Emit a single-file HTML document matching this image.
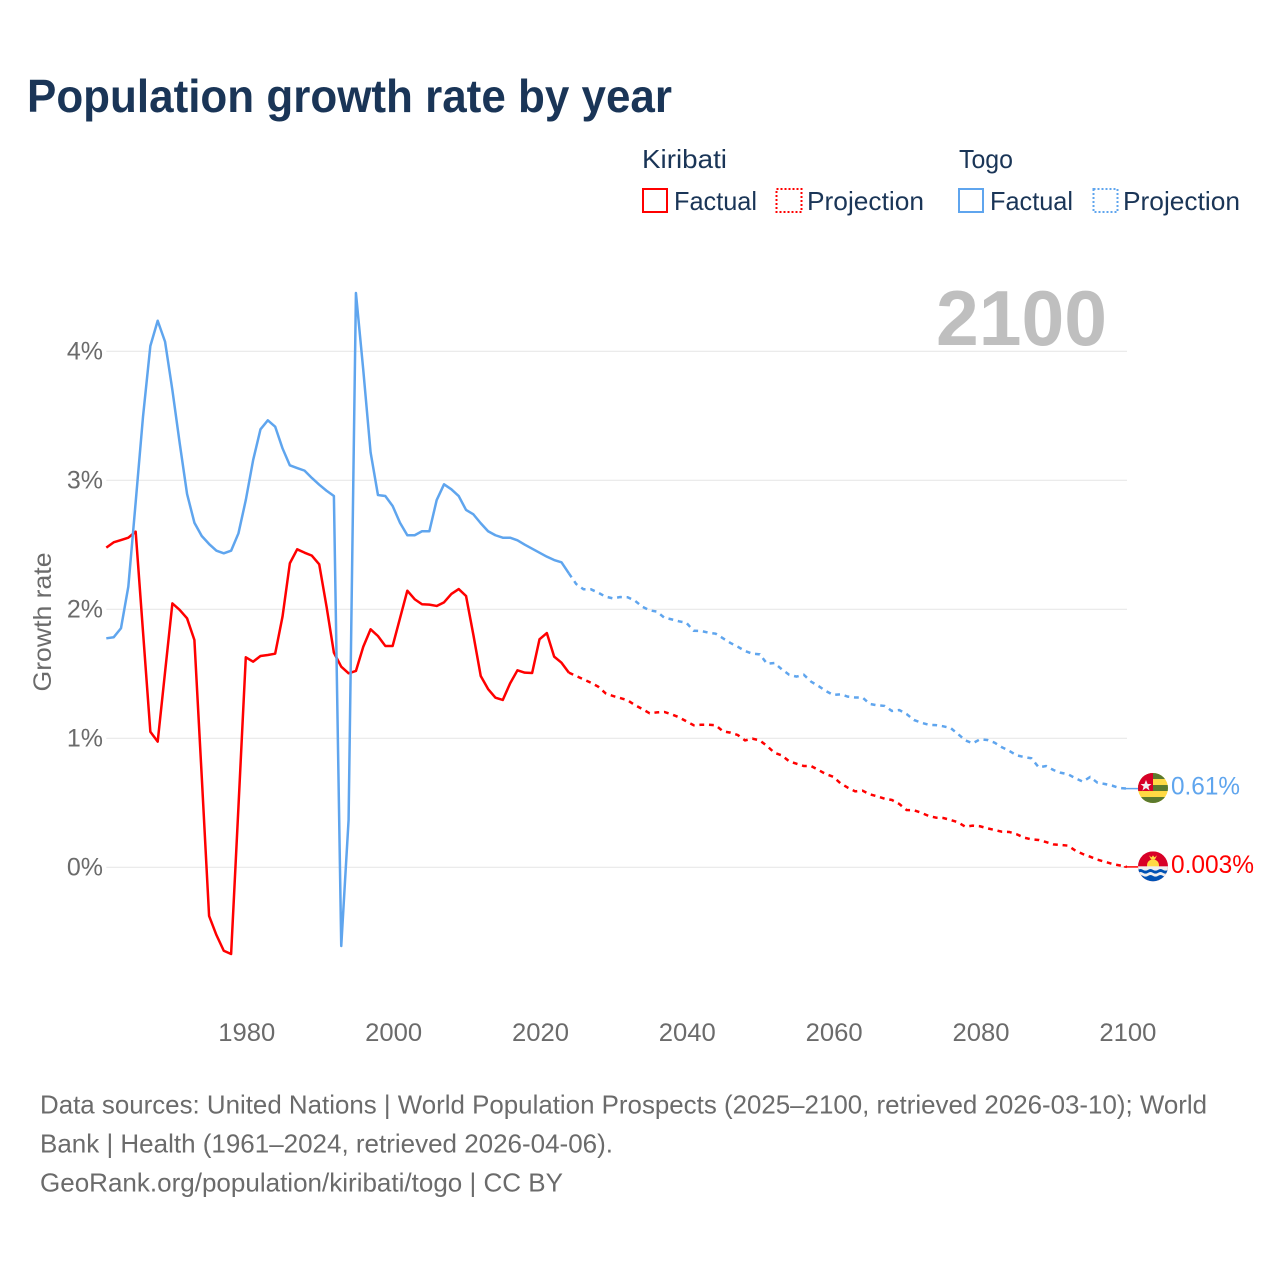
<!DOCTYPE html>
<html lang="en">
<head>
<meta charset="utf-8">
<title>Population growth rate by year</title>
<style>
html,body{margin:0;padding:0;background:#fff;width:1280px;height:1280px;overflow:hidden}
svg{display:block}
text{font-family:"Liberation Sans",sans-serif}
</style>
</head>
<body>
<svg id="chart" xmlns="http://www.w3.org/2000/svg" width="1280" height="1280" viewBox="0 0 1280 1280">
  <defs>
    <clipPath id="flag-clip"><circle cx="0" cy="0" r="15"/></clipPath>
  </defs>
  <rect width="1280" height="1280" fill="#fff"/>
  <text x="27" y="112" font-size="46" font-weight="700" fill="#1a3557" textLength="645" lengthAdjust="spacingAndGlyphs">Population growth rate by year</text>

  <g font-size="26" fill="#1a3557">
    <text x="642" y="168" textLength="85" lengthAdjust="spacingAndGlyphs">Kiribati</text>
    <text x="959" y="168" textLength="54" lengthAdjust="spacingAndGlyphs">Togo</text>
    <rect x="643" y="189" width="24" height="23" fill="none" stroke="#ff0000" stroke-width="2"/>
    <text x="674" y="210" textLength="83" lengthAdjust="spacingAndGlyphs">Factual</text>
    <rect x="776.5" y="189" width="25" height="23" fill="none" stroke="#ff0000" stroke-width="2" stroke-dasharray="2 2"/>
    <text x="807" y="210" textLength="117" lengthAdjust="spacingAndGlyphs">Projection</text>
    <rect x="959" y="189" width="24" height="23" fill="none" stroke="#5fa5ee" stroke-width="2"/>
    <text x="990" y="210" textLength="83" lengthAdjust="spacingAndGlyphs">Factual</text>
    <rect x="1093.5" y="189" width="24" height="23" fill="none" stroke="#5fa5ee" stroke-width="2" stroke-dasharray="2 2"/>
    <text x="1123" y="210" textLength="117" lengthAdjust="spacingAndGlyphs">Projection</text>
  </g>

  <text transform="translate(51,622) rotate(-90)" text-anchor="middle" font-size="25" fill="#6b6b6b" textLength="139" lengthAdjust="spacingAndGlyphs">Growth rate</text>

  <g id="grid"></g>
  <g id="y-labels"></g>
  <g id="x-labels"></g>

  <text x="1107" y="345" text-anchor="end" font-size="78" font-weight="700" fill="#bfbfbf" textLength="171" lengthAdjust="spacingAndGlyphs">2100</text>

  <g id="series"></g>

  <g id="flag-togo">
    <g clip-path="url(#flag-clip)">
      <rect x="-15" y="-15" width="30" height="30" fill="#ffda44"/>
      <rect x="-15" y="-15" width="30" height="6" fill="#5b7a2e"/>
      <rect x="-15" y="-3" width="30" height="6" fill="#5b7a2e"/>
      <rect x="-15" y="9" width="30" height="6" fill="#5b7a2e"/>
      <rect x="-15" y="-15" width="15" height="18" fill="#d80027"/>
      <polygon points="-7,-8 -5.4,-4 -1.5,-4 -4.6,-1.5 -3.5,2.5 -7,0 -10.5,2.5 -9.4,-1.5 -12.5,-4 -8.6,-4" fill="#f0f0f0"/>
    </g>
  </g>
  <g id="flag-kiribati">
    <g clip-path="url(#flag-clip)">
      <rect x="-15" y="-15" width="30" height="30" fill="#d80027"/>
      <polygon points="-4,-11 -1.5,-9 0,-11 1.5,-9 4,-11 2,-7 -2,-7" fill="#ffda44"/>
      <circle cx="0" cy="-1" r="6" fill="#ffda44"/>
      <rect x="-15" y="0" width="30" height="15" fill="#f0f0f0"/>
      <path d="M-15,3.5 q2.5,-1.6 5,0 t5,0 t5,0 t5,0 t5,0 t5,0 V6.5 q-2.5,1.6 -5,0 t-5,0 t-5,0 t-5,0 t-5,0 t-5,0 Z" fill="#0052b4"/>
      <path d="M-15,9.5 q2.5,-1.6 5,0 t5,0 t5,0 t5,0 t5,0 t5,0 V15 H-15 Z" fill="#0052b4"/>
    </g>
  </g>
  <g id="end-labels"></g>

  <g font-size="26" fill="#6b6b6b">
    <text x="40" y="1113.5" textLength="1167" lengthAdjust="spacingAndGlyphs">Data sources: United Nations | World Population Prospects (2025–2100, retrieved 2026-03-10); World</text>
    <text x="40" y="1152.5" textLength="573" lengthAdjust="spacingAndGlyphs">Bank | Health (1961–2024, retrieved 2026-04-06).</text>
    <text x="40" y="1191.5" textLength="523" lengthAdjust="spacingAndGlyphs">GeoRank.org/population/kiribati/togo | CC BY</text>
  </g>
</svg>
<script>
const firstYear = 1961;
const xTickYears = [1980, 2000, 2020, 2040, 2060, 2080, 2100];
const yTickValues = [0, 1, 2, 3, 4];
const yTickLabels = ['0%', '1%', '2%', '3%', '4%'];

const kiribatiFactual = [
  2.478,2.519,2.537,2.555,2.602,1.826,1.051,0.974,1.512,2.046,
  1.995,1.930,1.762,0.702,-0.377,-0.525,-0.647,-0.672,0.470,1.628,
  1.594,1.638,1.646,1.656,1.943,2.357,2.465,2.439,2.416,2.349,
  2.020,1.664,1.555,1.504,1.522,1.710,1.845,1.793,1.716,1.716,
  1.930,2.144,2.078,2.039,2.036,2.026,2.054,2.119,2.157,2.103,
  1.801,1.483,1.382,1.315,1.297,1.426,1.527,1.509,1.506,1.767,
  1.816,1.633,1.586,1.509
];
const kiribatiProjection = [
  1.483,1.457,1.431,1.400,1.349,1.328,
  1.312,1.295,1.258,1.227,1.194,1.201,1.204,1.186,1.163,1.132,
  1.101,1.105,1.105,1.101,1.054,1.044,1.026,0.984,0.997,0.984,
  0.940,0.888,0.868,0.822,0.803,0.785,0.785,0.754,0.723,0.702,
  0.651,0.617,0.589,0.594,0.566,0.550,0.532,0.522,0.491,0.444,
  0.442,0.423,0.398,0.385,0.382,0.367,0.349,0.315,0.323,0.318,
  0.302,0.289,0.276,0.274,0.256,0.230,0.217,0.212,0.196,0.178,
  0.173,0.168,0.129,0.103,0.082,0.059,0.043,0.026,0.015,0.003
];
const togoFactual = [
  1.775,1.783,1.853,2.176,2.830,3.493,4.041,4.237,4.075,3.700,
  3.287,2.894,2.671,2.568,2.506,2.454,2.434,2.454,2.589,2.847,
  3.157,3.395,3.465,3.416,3.248,3.116,3.095,3.075,3.018,2.966,
  2.919,2.878,-0.610,0.367,4.452,3.855,3.216,2.886,2.878,2.801,
  2.671,2.574,2.574,2.605,2.605,2.847,2.969,2.930,2.878,2.770,
  2.736,2.667,2.605,2.574,2.555,2.555,2.535,2.501,2.470,2.439,
  2.408,2.382,2.364,2.279
];
const togoProjection = [
  2.196,2.155,2.155,2.129,2.098,2.085,
  2.095,2.093,2.067,2.020,1.992,1.982,1.935,1.922,1.907,1.896,
  1.834,1.832,1.819,1.811,1.775,1.739,1.710,1.677,1.656,1.651,
  1.578,1.584,1.535,1.493,1.478,1.493,1.439,1.405,1.367,1.336,
  1.341,1.323,1.316,1.316,1.266,1.256,1.251,1.212,1.219,1.188,
  1.142,1.121,1.105,1.102,1.093,1.080,1.033,0.984,0.961,0.992,
  0.987,0.966,0.930,0.902,0.868,0.855,0.845,0.775,0.785,0.754,
  0.733,0.721,0.690,0.664,0.700,0.656,0.646,0.633,0.615,0.610
];
const togoEndLabel = ['0.61%'];
const kiribatiEndLabel = ['0.003%'];

const NS = 'http://www.w3.org/2000/svg';
const RED = '#ff0000';
const BLUE = '#5fa5ee';
const FLAG_X = 1153;

function xScale(year) { return 106.3 + (year - 1961) * 7.342; }
function yScale(value) { return 867.3 - value * 129; }

function make(tag, attrs, parent) {
  const el = document.createElementNS(NS, tag);
  Object.keys(attrs).forEach(function (k) { el.setAttribute(k, attrs[k]); });
  parent.appendChild(el);
  return el;
}

const grid = document.getElementById('grid');
const yLabels = document.getElementById('y-labels');
yTickValues.forEach(function (v, i) {
  const line = make('line', { x1: xScale(1961), x2: 1127, y1: yScale(v), y2: yScale(v), stroke: '#e8e8e8', 'stroke-width': 1.2 }, grid);
  
  
  const label = make('text', { x: 103, y: yScale(v) + 8, 'text-anchor': 'end', 'font-size': 25, fill: '#6b6b6b' }, yLabels);
  label.textContent = yTickLabels[i];
  
  
});

const xLabels = document.getElementById('x-labels');
xTickYears.forEach(function (year) {
  const label = make('text', { x: xScale(year) + 1, y: 1041, 'text-anchor': 'middle', 'font-size': 25, fill: '#6b6b6b', textLength: 57, lengthAdjust: 'spacingAndGlyphs' }, xLabels);
  label.textContent = String(year);
  
  
});

function pathFrom(values, startYear) {
  return values.map(function (v, i) {
    return (i ? 'L' : 'M') + xScale(startYear + i).toFixed(2) + ' ' + yScale(v).toFixed(2);
  }).join(' ');
}

const series = document.getElementById('series');

function drawSeries(key, factual, projection, color) {
  const solid = make('path', { d: pathFrom(factual, firstYear), fill: 'none', stroke: color, 'stroke-width': 2.5, 'stroke-linejoin': 'round' }, series);
  
  

  const lastFactual = factual[factual.length - 1];
  const projStart = firstYear + factual.length - 1;
  const dashed = make('path', { d: pathFrom([lastFactual].concat(projection), projStart), fill: 'none', stroke: color, 'stroke-width': 2.5, 'stroke-dasharray': '4.8 4.8' }, series);
  
  

  const lastValue = projection[projection.length - 1];
  const lastYear = projStart + projection.length;
  const connector = make('line', { x1: xScale(lastYear) - 3, x2: FLAG_X - 14, y1: yScale(lastValue), y2: yScale(lastValue), stroke: color, 'stroke-width': 1.5 }, series);
  
  
}

drawSeries('kiribati', kiribatiFactual, kiribatiProjection, RED);
drawSeries('togo', togoFactual, togoProjection, BLUE);

function placeEnd(flagId, key, values, text, color, width) {
  const last = values[values.length - 1];
  const y = yScale(last);
  document.getElementById(flagId).setAttribute('transform', 'translate(' + FLAG_X + ',' + (y - 0.6) + ')');
  const label = make('text', { x: 1171, y: y + 6, 'font-size': 25, fill: color, textLength: width, lengthAdjust: 'spacingAndGlyphs' }, document.getElementById('end-labels'));
  label.textContent = text;
  
  
}

placeEnd('flag-togo', 'togo', togoProjection, togoEndLabel[0], BLUE, 69);
placeEnd('flag-kiribati', 'kiribati', kiribatiProjection, kiribatiEndLabel[0], RED, 83);
</script>
</body>
</html>
